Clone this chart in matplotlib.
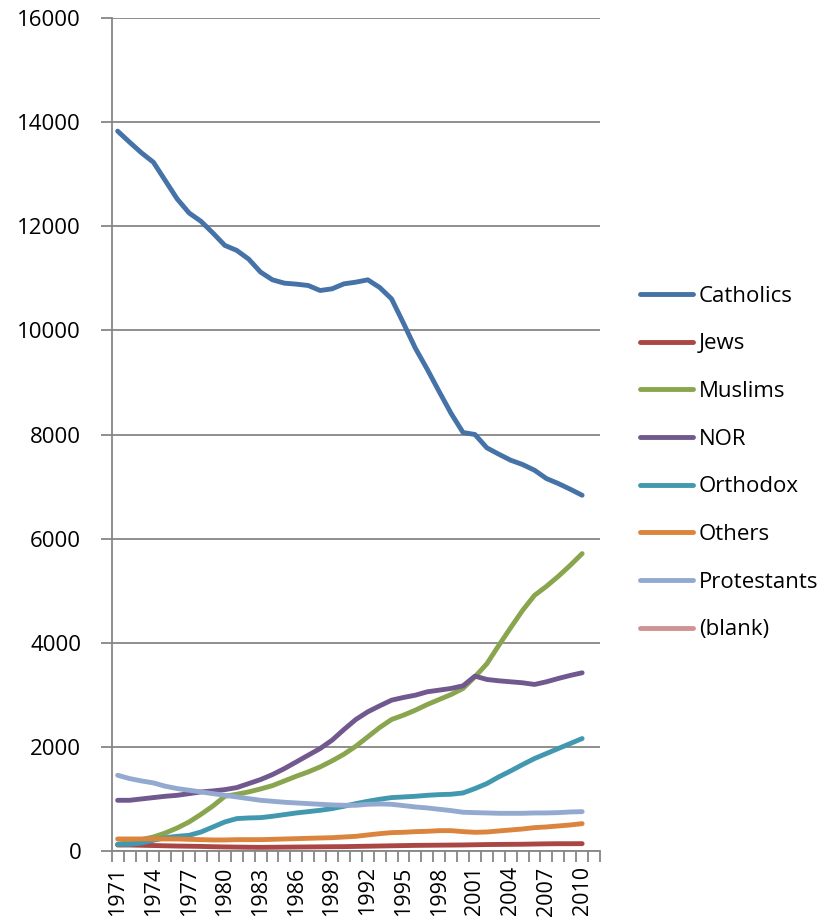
import numpy as np
import matplotlib
matplotlib.use("Agg")
import matplotlib.pyplot as plt

plt.rcParams['font.family'] = ['Open Sans', 'DejaVu Sans']

# categories of the pivot chart: 1971..2010 plus the empty "(blank)" slot
years = [str(y) for y in range(1971, 2011)]
categories = years + ["(blank)"]

catholics = [13827, 13615, 13410, 13230, 12877, 12524, 12255, 12094, 11870, 11632,
             11536, 11369, 11119, 10971, 10907, 10888, 10862, 10766, 10798, 10894,
             10926, 10971, 10824, 10605, 10137, 9656, 9251, 8822, 8404, 8038,
             8000, 7744, 7622, 7506, 7423, 7314, 7154, 7058, 6949, 6833]
jews = [115, 115, 110, 105, 100, 95, 92, 88, 82, 78,
        75, 72, 70, 72, 74, 76, 78, 80, 82, 84,
        88, 92, 96, 100, 104, 108, 110, 112, 114, 116,
        120, 124, 126, 128, 130, 134, 138, 140, 140, 141]
muslims = [130, 170, 220, 269, 346, 442, 558, 705, 865, 1051,
           1090, 1135, 1192, 1256, 1346, 1436, 1519, 1615, 1731, 1859,
           2013, 2192, 2372, 2526, 2609, 2705, 2814, 2910, 3006, 3122,
           3346, 3596, 3949, 4289, 4622, 4910, 5083, 5276, 5487, 5712]
nor = [974, 974, 1000, 1026, 1051, 1070, 1102, 1135, 1154, 1179,
       1218, 1295, 1372, 1468, 1583, 1711, 1840, 1968, 2128, 2333,
       2526, 2673, 2788, 2897, 2949, 2993, 3058, 3090, 3122, 3173,
       3359, 3295, 3269, 3250, 3231, 3199, 3250, 3314, 3372, 3423]
orthodox = [128, 128, 154, 205, 256, 282, 301, 365, 461, 558,
            622, 635, 641, 667, 699, 731, 756, 782, 814, 859,
            910, 955, 994, 1026, 1038, 1051, 1070, 1083, 1090, 1115,
            1199, 1295, 1423, 1538, 1660, 1776, 1872, 1968, 2064, 2160]
others = [231, 231, 231, 231, 231, 231, 224, 218, 212, 212,
          218, 218, 218, 224, 231, 237, 244, 250, 256, 269,
          282, 308, 333, 353, 359, 372, 378, 391, 391, 372,
          359, 365, 385, 404, 423, 449, 462, 481, 500, 526]
protestants = [1455, 1391, 1346, 1308, 1244, 1199, 1167, 1135, 1102, 1070,
               1038, 1006, 974, 955, 936, 923, 910, 897, 885, 878,
               878, 897, 904, 897, 872, 846, 827, 801, 776, 744,
               737, 731, 724, 724, 724, 731, 731, 737, 750, 756]
blank = [np.nan] * len(years)

series = [
    ("Catholics", catholics, "#4572A7"),
    ("Jews", jews, "#AA4643"),
    ("Muslims", muslims, "#89A54E"),
    ("NOR", nor, "#71588F"),
    ("Orthodox", orthodox, "#4198AF"),
    ("Others", others, "#DB843D"),
    ("Protestants", protestants, "#93A9CF"),
    ("(blank)", blank, "#D19392"),
]

fig = plt.figure(figsize=(8.38, 9.23), dpi=100)
ax = fig.add_axes([111.7 / 838, 1 - 851 / 923, (600 - 111.7) / 838, (851 - 18) / 923])

x = np.arange(len(years))
for name, vals, col in series:
    ax.plot(x, vals, color=col, lw=3.5, label=name, solid_capstyle='round',
            solid_joinstyle='round')

grid_col = "#868686"
ax.set_ylim(0, 16000)
ax.set_yticks(np.arange(0, 16001, 2000))
ax.yaxis.grid(True, color=grid_col, lw=1.3)
ax.set_axisbelow(True)

ax.set_xlim(-0.5, len(categories) - 0.5)
ax.set_xticks(np.arange(0, len(years), 3))
ax.set_xticklabels([categories[i] for i in range(0, len(years), 3)], rotation=90)
ax.set_xticks(np.arange(-0.5, len(categories), 1), minor=True)
ax.tick_params(axis='x', which='major', length=0, pad=11, labelsize=15.5)
ax.tick_params(axis='x', which='minor', length=8, width=1.3, color=grid_col)
ax.tick_params(axis='y', length=8, width=1.3, color=grid_col, pad=14, labelsize=16)

for s in ['top', 'right']:
    ax.spines[s].set_visible(False)
for s in ['left', 'bottom']:
    ax.spines[s].set_color(grid_col)
    ax.spines[s].set_linewidth(1.3)

ax.legend(loc='center left', bbox_to_anchor=(640 / 838, 1 - 463 / 923),
          bbox_transform=fig.transFigure, frameon=False, fontsize=16,
          handlelength=2.4, handletextpad=0.25, labelspacing=1.2,
          borderpad=0, borderaxespad=0)

fig.savefig("out.png", dpi=100)
